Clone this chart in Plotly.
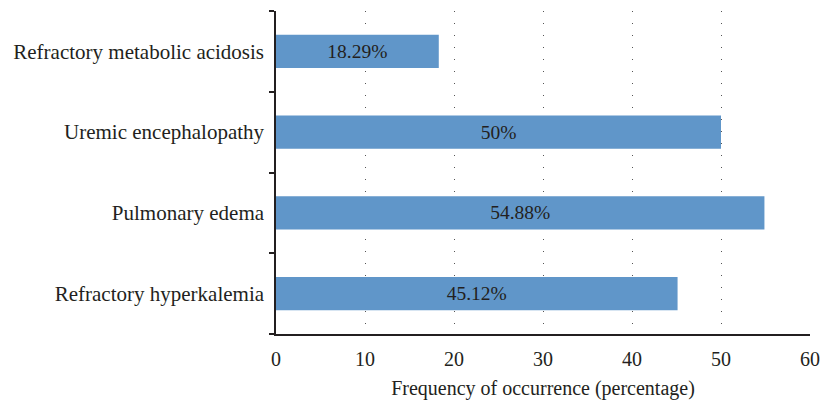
import plotly.graph_objects as go

categories = ["Refractory hyperkalemia", "Pulmonary edema", "Uremic encephalopathy", "Refractory metabolic acidosis"]
values = [45.12, 54.88, 50, 18.29]
labels = ["45.12%", "54.88%", "50%", "18.29%"]
x_ticks = [0, 10, 20, 30, 40, 50, 60]

FONT = "Liberation Serif"
TXT = "#231f20"

fig = go.Figure(go.Bar(
    y=categories, x=values, orientation="h",
    marker=dict(color="#6096c9", line=dict(width=0)),
    width=0.41,
    text=labels, textposition="inside", insidetextanchor="middle",
    textfont=dict(family=FONT, size=19.5, color=TXT),
    constraintext="none",
))

fig.update_layout(
    width=820, height=404,
    margin=dict(l=276, r=10, t=11, b=70),
    plot_bgcolor="white", paper_bgcolor="white",
    showlegend=False,
    font=dict(family=FONT, color=TXT, size=20),
    xaxis=dict(
        range=[0, 60], tickvals=x_ticks, ticks="",
        showline=True, linecolor=TXT, linewidth=1.5,
        showgrid=True, gridcolor="#555555", gridwidth=1, griddash="1px,11px",
        zeroline=False, automargin=False,
        tickfont=dict(family=FONT, size=20, color=TXT),
        ticklabelstandoff=6,
        title=dict(text="Frequency of occurrence (percentage)", font=dict(family=FONT, size=20, color=TXT), standoff=12),
    ),
    yaxis=dict(
        type="category", categoryorder="array", categoryarray=categories,
        showline=True, linecolor=TXT, linewidth=1.5,
        ticks="outside", tickson="boundaries", ticklen=5, tickcolor=TXT, tickwidth=1.5,
        showgrid=False, zeroline=False, automargin=False,
        tickfont=dict(family=FONT, size=21, color=TXT),
        ticklabelstandoff=6,
    ),
)

fig.write_html(
    "out.html",
    config={"displayModeBar": False},
    post_script="document.body.style.margin='0';document.body.style.padding='0';document.body.style.overflow='hidden';",
)
